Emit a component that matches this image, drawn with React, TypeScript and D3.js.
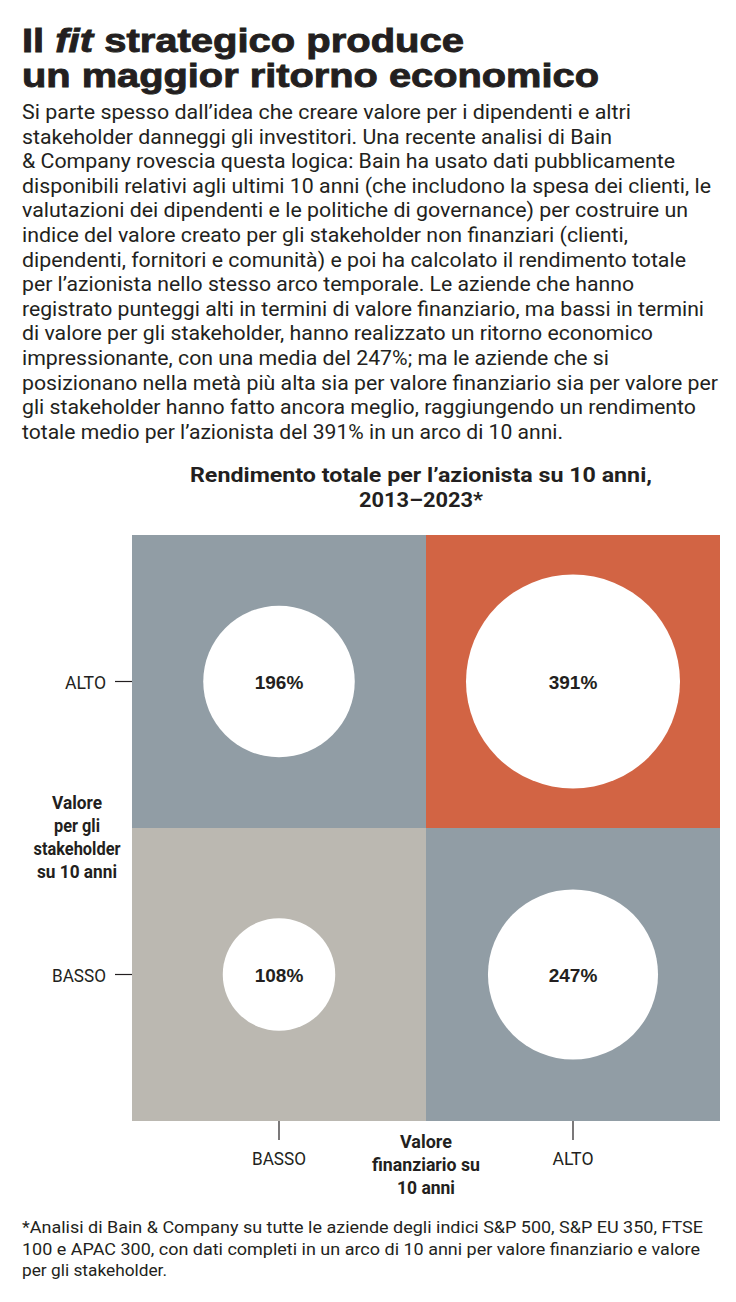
import React from 'react';
import * as d3 from 'd3';

// Title, body and notes
const titleLines = [
  [{t: 'Il ', i: false}, {t: 'fit', i: true}, {t: ' strategico produce', i: false}],
  [{t: 'un maggior ritorno economico', i: false}],
];

const bodyLines = [
  'Si parte spesso dall’idea che creare valore per i dipendenti e altri',
  'stakeholder danneggi gli investitori. Una recente analisi di Bain',
  '& Company rovescia questa logica: Bain ha usato dati pubblicamente',
  'disponibili relativi agli ultimi 10 anni (che includono la spesa dei clienti, le',
  'valutazioni dei dipendenti e le politiche di governance) per costruire un',
  'indice del valore creato per gli stakeholder non finanziari (clienti,',
  'dipendenti, fornitori e comunità) e poi ha calcolato il rendimento totale',
  'per l’azionista nello stesso arco temporale. Le aziende che hanno',
  'registrato punteggi alti in termini di valore finanziario, ma bassi in termini',
  'di valore per gli stakeholder, hanno realizzato un ritorno economico',
  'impressionante, con una media del 247%; ma le aziende che si',
  'posizionano nella metà più alta sia per valore finanziario sia per valore per',
  'gli stakeholder hanno fatto ancora meglio, raggiungendo un rendimento',
  'totale medio per l’azionista del 391% in un arco di 10 anni.',
];

const chartTitle = ['Rendimento totale per l’azionista su 10 anni,', '2013–2023*'];

const footnote = [
  '*Analisi di Bain & Company su tutte le aziende degli indici S&P 500, S&P EU 350, FTSE',
  '100 e APAC 300, con dati completi in un arco di 10 anni per valore finanziario e valore',
  'per gli stakeholder.',
];

// Chart data
const levels = ['BASSO', 'ALTO'];
const yTitle = ['Valore', 'per gli', 'stakeholder', 'su 10 anni'];
const xTitle = ['Valore', 'finanziario su', '10 anni'];

const financial = ['BASSO', 'ALTO', 'BASSO', 'ALTO'];
const stakeholder = ['ALTO', 'ALTO', 'BASSO', 'BASSO'];
const returns = [196, 391, 108, 247];
const fills = ['#919da5', '#d26444', '#bbb8b1', '#919da5'];

// measured line widths of the reference typesetting (layout only)
const titleWidths = [442, 577];
const bodyWidths = [609, 590, 653, 689, 666, 606, 664, 612, 682, 631, 587, 696, 674, 541];
const chartTitleWidths = [462, 124];
const yTitleWidths = [50, 46, 87, 80];
const xTitleWidths = [52, 108, 58];
const footWidths = [681, 678, 145];

const W = 736;
const H = 1302;
const ink = '#231f20';
const sans = 'Roboto, "Liberation Sans", sans-serif';
const heavy = '"Liberation Sans", Roboto, sans-serif';

const fit = (w?: number) =>
  w ? {textLength: w, lengthAdjust: 'spacingAndGlyphs' as const} : {};

export default function App() {
  const x = d3.scaleBand<string>().domain(levels).range([132, 720]);
  const y = d3.scaleBand<string>().domain([...levels].reverse()).range([535, 1121]);
  const r = d3.scaleSqrt().domain([0, 391]).range([0, 107]);
  const bw = x.bandwidth();
  const bh = y.bandwidth();

  return (
    <svg
      width={W}
      height={H}
      viewBox={`0 0 ${W} ${H}`}
      style={{position: 'absolute', left: 0, top: 0, background: '#fff'}}
    >
      {titleLines.map((line, li) => (
        <text
          key={li}
          x={22}
          y={52 + li * 35}
          fontFamily={heavy}
          fontWeight={700}
          fontSize={34}
          fill={ink}
          stroke={ink}
          strokeWidth={0.9}
          {...fit(titleWidths[li])}
        >
          {line.map((s, si) => (
            <tspan key={si} fontStyle={s.i ? 'italic' : 'normal'}>
              {s.t}
            </tspan>
          ))}
        </text>
      ))}

      {bodyLines.map((l, i) => (
        <text
          key={i}
          x={22}
          y={119 + i * 24.6}
          fontFamily={sans}
          fontSize={19.5}
          fill={ink}
          {...fit(bodyWidths[i])}
        >
          {l}
        </text>
      ))}

      {chartTitle.map((l, i) => (
        <text
          key={i}
          x={421}
          y={482 + i * 25}
          textAnchor="middle"
          fontFamily={sans}
          fontWeight={700}
          fontSize={21}
          fill={ink}
          {...fit(chartTitleWidths[i])}
        >
          {l}
        </text>
      ))}

      {/* quadrants */}
      {returns.map((v, i) => {
        const cx = x(financial[i])!;
        const cy = y(stakeholder[i])!;
        return (
          <g key={i}>
            <rect x={cx} y={cy} width={bw} height={bh} fill={fills[i]} />
            <circle cx={cx + bw / 2} cy={cy + bh / 2} r={r(v)} fill="#fff" />
            <text
              x={cx + bw / 2}
              y={cy + bh / 2 + 7}
              textAnchor="middle"
              fontFamily={heavy}
              fontWeight={700}
              fontSize={19}
              fill={ink}
            >
              {v}%
            </text>
          </g>
        );
      })}

      {/* y axis */}
      {levels.map((l) => {
        const cy = y(l)! + bh / 2;
        return (
          <g key={'y' + l}>
            <line x1={115} x2={132} y1={cy} y2={cy} stroke={ink} strokeWidth={1.2} />
            <text
              x={106}
              y={cy + 7}
              textAnchor="end"
              fontFamily={sans}
              fontSize={19}
              fill={ink}
              {...fit(l === 'ALTO' ? 41 : 54)}
            >
              {l}
            </text>
          </g>
        );
      })}
      {yTitle.map((l, i) => (
        <text
          key={i}
          x={77}
          y={809 + i * 23}
          textAnchor="middle"
          fontFamily={sans}
          fontWeight={700}
          fontSize={19}
          fill={ink}
          {...fit(yTitleWidths[i])}
        >
          {l}
        </text>
      ))}

      {/* x axis */}
      {levels.map((l) => {
        const cx = x(l)! + bw / 2;
        return (
          <g key={'x' + l}>
            <line x1={cx} x2={cx} y1={1121} y2={1140} stroke={ink} strokeWidth={1.2} />
            <text
              x={cx}
              y={1165}
              textAnchor="middle"
              fontFamily={sans}
              fontSize={19}
              fill={ink}
              {...fit(l === 'ALTO' ? 41 : 54)}
            >
              {l}
            </text>
          </g>
        );
      })}
      {xTitle.map((l, i) => (
        <text
          key={i}
          x={426}
          y={1148 + i * 23}
          textAnchor="middle"
          fontFamily={sans}
          fontWeight={700}
          fontSize={19}
          fill={ink}
          {...fit(xTitleWidths[i])}
        >
          {l}
        </text>
      ))}

      {footnote.map((l, i) => (
        <text
          key={i}
          x={22}
          y={1233 + i * 21.5}
          fontFamily={sans}
          fontSize={16}
          fill={ink}
          {...fit(footWidths[i])}
        >
          {l}
        </text>
      ))}
    </svg>
  );
}
